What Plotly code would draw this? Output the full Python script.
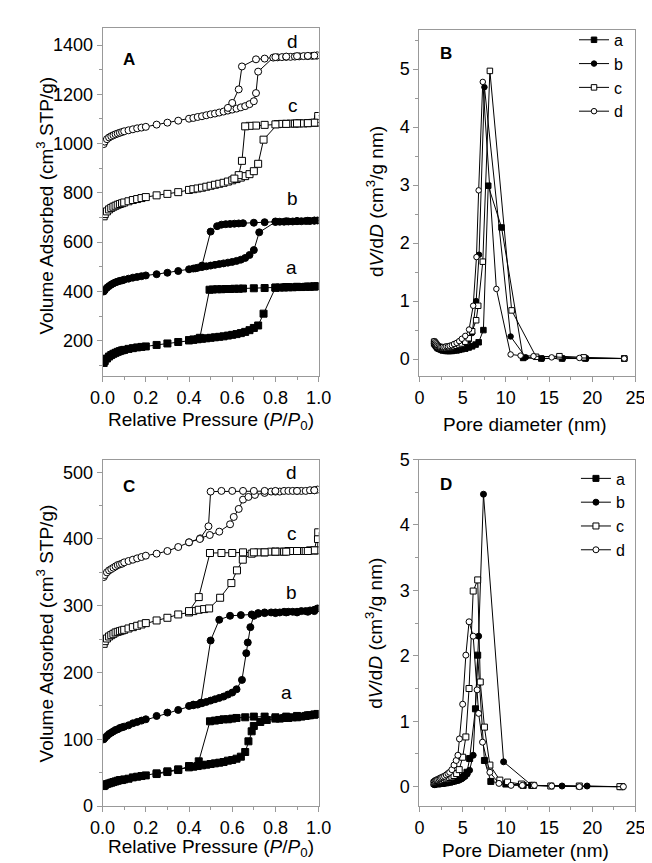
import plotly.graph_objects as go

# ---------------- Panel A : N2 isotherms (adsorption then desorption) -------------
A_a_x = [0.005, 0.01, 0.02, 0.03, 0.04, 0.05, 0.06, 0.07, 0.08, 0.09, 0.10, 0.12, 0.14, 0.16, 0.18, 0.20,
         0.25, 0.30, 0.35, 0.40, 0.42, 0.44, 0.46, 0.48, 0.50, 0.52, 0.54, 0.56, 0.58, 0.60, 0.62, 0.64,
         0.66, 0.68, 0.70, 0.72, 0.745, 0.80, 0.82, 0.84, 0.86, 0.88, 0.90, 0.92, 0.94, 0.96, 0.98, 0.995,
         0.98, 0.95, 0.90, 0.85, 0.80, 0.75, 0.70, 0.65, 0.63, 0.61, 0.59, 0.57, 0.55, 0.53, 0.51, 0.495,
         0.45, 0.42, 0.40]
A_a_y = [110, 118, 128, 136, 142, 147, 151, 155, 158, 161, 163, 167, 170, 173, 175, 177,
         183, 189, 195, 202, 204, 206, 208, 210, 212, 214, 216, 218, 221, 224, 227, 231,
         236, 243, 252, 262, 310, 415, 416, 416, 417, 417, 418, 418, 419, 419, 420, 421,
         421, 420, 419, 418, 416, 414, 413, 412, 411, 411, 410, 410, 409, 409, 408, 407,
         212, 205, 202]

A_b_x = [0.005, 0.01, 0.02, 0.03, 0.04, 0.05, 0.06, 0.07, 0.08, 0.09, 0.10, 0.12, 0.14, 0.16, 0.18, 0.20,
         0.25, 0.30, 0.35, 0.40, 0.42, 0.44, 0.46, 0.48, 0.50, 0.52, 0.54, 0.56, 0.58, 0.60, 0.62, 0.64,
         0.66, 0.68, 0.70, 0.725, 0.80, 0.82, 0.84, 0.86, 0.88, 0.90, 0.92, 0.94, 0.96, 0.98, 0.995,
         0.98, 0.95, 0.90, 0.85, 0.80, 0.75, 0.70, 0.65, 0.63, 0.61, 0.59, 0.57, 0.55, 0.53, 0.50,
         0.46, 0.43]
A_b_y = [400, 405, 415, 422, 428, 433, 437, 440, 443, 445, 448, 452, 456, 459, 462, 465,
         470, 476, 483, 490, 493, 496, 499, 502, 505, 508, 511, 514, 517, 520, 524, 529,
         536, 548, 568, 640, 682, 683, 683, 684, 684, 685, 685, 686, 686, 687, 688,
         688, 687, 686, 685, 684, 681, 679, 677, 676, 675, 674, 673, 671, 665, 643,
         505, 494]

A_c_x = [0.005, 0.01, 0.02, 0.03, 0.04, 0.05, 0.06, 0.07, 0.08, 0.09, 0.10, 0.12, 0.14, 0.16, 0.18, 0.20,
         0.25, 0.30, 0.35, 0.40, 0.42, 0.44, 0.46, 0.48, 0.50, 0.52, 0.54, 0.56, 0.58, 0.60, 0.62, 0.64,
         0.66, 0.68, 0.70, 0.72, 0.745, 0.81, 0.83, 0.85, 0.87, 0.89, 0.91, 0.93, 0.95, 0.97, 0.99, 0.995,
         0.997, 0.998,
         0.98, 0.95, 0.90, 0.85, 0.80, 0.75, 0.71, 0.68, 0.66, 0.645, 0.63, 0.61]
A_c_y = [705, 714, 725, 733, 739, 744, 748, 752, 755, 758, 761, 766, 771, 775, 779, 783,
         790, 796, 803, 812, 815, 818, 821, 825, 829, 833, 837, 841, 846, 851, 856, 862,
         868, 876, 888, 918, 1016, 1079, 1080, 1080, 1081, 1081, 1082, 1082, 1083, 1084, 1085, 1086,
         1100, 1112,
         1085, 1083, 1082, 1080, 1078, 1076, 1073, 1072, 1070, 930, 872, 858]

A_d_x = [0.005, 0.01, 0.02, 0.03, 0.04, 0.05, 0.06, 0.07, 0.08, 0.09, 0.10, 0.12, 0.14, 0.16, 0.18, 0.20,
         0.25, 0.30, 0.35, 0.40, 0.42, 0.44, 0.46, 0.48, 0.50, 0.52, 0.54, 0.56, 0.58, 0.60, 0.62, 0.64,
         0.66, 0.68, 0.70, 0.71, 0.72, 0.79, 0.81, 0.83, 0.85, 0.87, 0.89, 0.91, 0.93, 0.95, 0.97, 0.99, 0.995,
         0.98, 0.95, 0.90, 0.85, 0.80, 0.75, 0.71, 0.645, 0.63, 0.60, 0.58]
A_d_y = [998, 1008, 1018, 1025, 1030, 1034, 1038, 1041, 1044, 1047, 1050, 1054, 1058, 1062, 1065, 1068,
         1077, 1085, 1093, 1101, 1104, 1108, 1111, 1115, 1119, 1122, 1126, 1130, 1134, 1138, 1142, 1147,
         1152, 1160, 1172, 1205, 1292, 1349, 1350, 1351, 1352, 1352, 1353, 1354, 1355, 1355, 1356, 1357, 1358,
         1357, 1356, 1355, 1353, 1351, 1345, 1342, 1313, 1220, 1165, 1145]

# ---------------- Panel B : pore size distributions -------------
B_a_x = [1.7, 1.8, 1.9, 2.0, 2.1, 2.25, 2.4, 2.55, 2.7, 2.9, 3.1, 3.3, 3.5, 3.75, 4.0, 4.3, 4.6, 4.9,
         5.3, 5.7, 6.1, 6.5, 6.85, 7.4, 7.96, 9.5, 12.0, 14.1, 16.5, 19.2, 23.7]
B_a_y = [0.27, 0.25, 0.23, 0.21, 0.19, 0.18, 0.17, 0.16, 0.15, 0.15, 0.14, 0.14, 0.14, 0.14, 0.15, 0.15, 0.16, 0.17,
         0.18, 0.20, 0.22, 0.25, 0.29, 0.50, 2.99, 2.27, 0.02, 0.01, 0.01, 0.01, 0.01]

B_b_x = [1.7, 1.8, 1.9, 2.0, 2.1, 2.25, 2.4, 2.55, 2.7, 2.9, 3.1, 3.3, 3.5, 3.75, 4.0, 4.3, 4.6, 4.9,
         5.3, 5.7, 6.1, 6.56, 6.9, 7.52, 10.55, 12.3, 14.2, 16.6, 19.3, 23.7]
B_b_y = [0.27, 0.25, 0.23, 0.21, 0.20, 0.19, 0.18, 0.17, 0.16, 0.16, 0.16, 0.16, 0.16, 0.17, 0.17, 0.18, 0.20, 0.22,
         0.26, 0.32, 0.45, 1.00, 1.80, 4.69, 0.39, 0.03, 0.01, 0.01, 0.01, 0.01]

B_c_x = [1.7, 1.8, 1.9, 2.0, 2.1, 2.25, 2.4, 2.55, 2.7, 2.9, 3.1, 3.3, 3.5, 3.75, 4.0, 4.3, 4.6, 4.9,
         5.3, 5.7, 6.1, 6.56, 6.8, 7.33, 8.15, 10.67, 13.5, 16.2, 19.0, 23.7]
B_c_y = [0.30, 0.28, 0.26, 0.24, 0.22, 0.21, 0.20, 0.20, 0.19, 0.19, 0.19, 0.20, 0.20, 0.21, 0.22, 0.23, 0.25, 0.27,
         0.30, 0.36, 0.48, 0.67, 0.92, 1.68, 4.97, 0.84, 0.04, 0.05, 0.03, 0.01]

B_d_x = [1.7, 1.8, 1.9, 2.0, 2.1, 2.25, 2.4, 2.55, 2.7, 2.9, 3.1, 3.3, 3.5, 3.75, 4.0, 4.3, 4.6, 4.9,
         5.3, 5.74, 6.22, 6.6, 6.85, 7.33, 8.9, 10.55, 11.7, 13.2, 15.3, 18.5, 23.7]
B_d_y = [0.31, 0.29, 0.27, 0.25, 0.23, 0.22, 0.21, 0.21, 0.21, 0.21, 0.22, 0.22, 0.23, 0.24, 0.26, 0.28, 0.31, 0.35,
         0.40, 0.51, 0.92, 1.76, 2.91, 4.78, 1.21, 0.08, 0.06, 0.05, 0.03, 0.02, 0.01]

# ---------------- Panel C : N2 isotherms -------------
C_a_x = [0.005, 0.01, 0.02, 0.03, 0.04, 0.05, 0.06, 0.07, 0.08, 0.09, 0.10, 0.12, 0.14, 0.16, 0.18, 0.20,
         0.25, 0.30, 0.35, 0.40, 0.42, 0.44, 0.46, 0.48, 0.50, 0.52, 0.54, 0.56, 0.58, 0.60, 0.62, 0.64,
         0.66, 0.675, 0.69, 0.70, 0.73, 0.76, 0.80, 0.82, 0.84, 0.86, 0.88, 0.90, 0.92, 0.94, 0.96, 0.98, 0.995,
         0.98, 0.95, 0.90, 0.85, 0.80, 0.75, 0.70, 0.66, 0.62, 0.60, 0.58, 0.56, 0.54, 0.52, 0.497,
         0.445, 0.40, 0.35, 0.30, 0.25]
C_a_y = [30, 31, 33, 34, 35, 36, 37, 38, 39, 39, 40, 41, 43, 44, 45, 46,
         49, 52, 55, 58, 59, 60, 61, 62, 63, 64, 65, 66, 68, 69, 71, 74,
         81, 97, 112, 120, 126, 129, 131, 131, 132, 132, 133, 133, 134, 135, 136, 137, 138,
         137, 136, 135, 134, 133, 134, 134, 133, 132, 131, 130, 130, 129, 128, 127,
         67, 60, 54, 51, 48]

C_b_x = [0.005, 0.01, 0.02, 0.03, 0.04, 0.05, 0.06, 0.07, 0.08, 0.09, 0.10, 0.12, 0.14, 0.16, 0.18, 0.20,
         0.25, 0.30, 0.35, 0.40, 0.42, 0.44, 0.46, 0.48, 0.50, 0.52, 0.54, 0.56, 0.58, 0.60, 0.62, 0.645,
         0.665, 0.672, 0.684, 0.70, 0.72, 0.75, 0.78, 0.80, 0.82, 0.84, 0.86, 0.88, 0.90, 0.92, 0.94, 0.96, 0.98, 0.995,
         0.98, 0.95, 0.90, 0.85, 0.80, 0.75, 0.72, 0.69, 0.64, 0.59, 0.54, 0.50,
         0.455, 0.42]
C_b_y = [100, 102, 105, 108, 110, 112, 114, 115, 117, 118, 119, 121, 124, 126, 128, 130,
         135, 140, 144, 150, 151, 152, 154, 156, 158, 160, 162, 164, 167, 170, 175, 189,
         229, 245, 268, 285, 289, 290, 290, 290, 290, 291, 291, 291, 291, 292, 292, 293, 294, 296,
         292, 291, 290, 290, 289, 289, 288, 287, 286, 285, 279, 248,
         155, 152]

C_c_x = [0.005, 0.01, 0.02, 0.03, 0.04, 0.05, 0.06, 0.07, 0.08, 0.09, 0.10, 0.12, 0.14, 0.16, 0.18, 0.20,
         0.25, 0.30, 0.35, 0.40, 0.42, 0.445, 0.47, 0.493, 0.544, 0.596, 0.622, 0.649, 0.69, 0.72, 0.75,
         0.78, 0.80, 0.82, 0.84, 0.86, 0.88, 0.90, 0.92, 0.94, 0.96, 0.98, 0.995, 0.997, 0.998,
         0.98, 0.95, 0.90, 0.85, 0.80, 0.75, 0.70, 0.65, 0.60, 0.55, 0.497, 0.445, 0.40]
C_c_y = [243, 247, 251, 254, 256, 258, 260, 261, 262, 263, 264, 266, 268, 270, 272, 274,
         278, 282, 287, 290, 292, 294, 295, 296, 312, 334, 353, 369, 378, 380, 380,
         381, 381, 381, 381, 382, 382, 382, 382, 382, 383, 383, 383, 400, 410,
         383, 382, 382, 381, 381, 380, 380, 380, 379, 379, 379, 313, 292]

C_d_x = [0.005, 0.01, 0.02, 0.03, 0.04, 0.05, 0.06, 0.07, 0.08, 0.09, 0.10, 0.12, 0.14, 0.16, 0.18, 0.20,
         0.25, 0.30, 0.35, 0.40, 0.452, 0.496, 0.54, 0.59, 0.607, 0.63, 0.65, 0.675, 0.705, 0.75, 0.78,
         0.80, 0.82, 0.84, 0.86, 0.88, 0.90, 0.92, 0.94, 0.96, 0.98, 0.995,
         0.98, 0.90, 0.80, 0.75, 0.70, 0.65, 0.60, 0.55, 0.50, 0.49, 0.45, 0.40]
C_d_y = [343, 346, 350, 353, 355, 357, 359, 361, 362, 363, 365, 367, 369, 371, 373, 375,
         378, 382, 388, 395, 401, 406, 411, 422, 433, 445, 459, 463, 466, 469, 471,
         471, 471, 472, 472, 472, 472, 472, 472, 473, 473, 474,
         473, 472, 472, 472, 472, 472, 472, 472, 471, 419, 400, 395]

# ---------------- Panel D : pore size distributions -------------
D_a_x = [1.7, 1.8, 1.9, 2.0, 2.1, 2.25, 2.4, 2.55, 2.7, 2.9, 3.1, 3.3, 3.5, 3.75, 4.0, 4.3, 4.6, 4.9,
         5.2, 5.5, 5.81, 6.48, 6.74, 7.52, 8.26, 10.0, 12.0, 13.0, 23.4]
D_a_y = [0.05, 0.05, 0.05, 0.05, 0.05, 0.05, 0.05, 0.05, 0.06, 0.06, 0.06, 0.07, 0.07, 0.08, 0.09, 0.10, 0.12, 0.14,
         0.17, 0.22, 0.43, 1.19, 2.01, 0.40, 0.08, 0.04, 0.02, 0.02, 0.00]

D_b_x = [1.7, 1.8, 1.9, 2.0, 2.1, 2.25, 2.4, 2.55, 2.7, 2.9, 3.1, 3.3, 3.5, 3.75, 4.0, 4.3, 4.6, 4.9,
         5.2, 5.5, 5.8, 6.22, 6.85, 7.41, 9.74, 13.0, 16.5, 19.4, 23.5]
D_b_y = [0.03, 0.03, 0.04, 0.04, 0.04, 0.04, 0.04, 0.05, 0.05, 0.05, 0.06, 0.06, 0.07, 0.07, 0.08, 0.09, 0.10, 0.12,
         0.15, 0.19, 0.25, 0.48, 2.30, 4.47, 0.38, 0.02, 0.01, 0.01, 0.00]

D_c_x = [1.7, 1.8, 1.9, 2.0, 2.1, 2.25, 2.4, 2.55, 2.7, 2.9, 3.1, 3.3, 3.5, 3.75, 4.0, 4.3, 4.6,
         5.0, 5.37, 5.74, 6.22, 6.74, 7.04, 7.52, 8.15, 9.3, 10.2, 11.8, 13.2, 15.2, 18.5, 23.2]
D_c_y = [0.06, 0.07, 0.07, 0.08, 0.08, 0.09, 0.09, 0.10, 0.10, 0.11, 0.12, 0.13, 0.14, 0.15, 0.17, 0.20, 0.26,
         0.45, 0.76, 1.50, 2.99, 3.16, 1.60, 0.91, 0.33, 0.10, 0.07, 0.04, 0.02, 0.01, 0.01, 0.00]

D_d_x = [1.7, 1.8, 1.9, 2.0, 2.1, 2.25, 2.4, 2.55, 2.7, 2.9, 3.1, 3.3, 3.5, 3.75, 4.0, 4.25, 4.45,
         4.63, 5.0, 5.37, 5.74, 6.22, 6.67, 6.85, 7.3, 8.15, 9.2, 10.6, 11.9, 13.3, 15.3, 18.5, 23.6]
D_d_y = [0.08, 0.09, 0.10, 0.10, 0.11, 0.12, 0.13, 0.14, 0.15, 0.16, 0.18, 0.20, 0.22, 0.26, 0.33, 0.40, 0.48,
         0.73, 1.26, 2.01, 2.52, 2.30, 1.48, 1.12, 0.68, 0.22, 0.05, 0.02, 0.02, 0.02, 0.01, 0.00, 0.00]

SERIES = ["a", "b", "c", "d"]

# ---------------- styling -------------
W, H = 652, 863
FONT = "Arial, 'Liberation Sans', Helvetica, sans-serif"
FRAME = "#999999"

STYLE = {
    "a": dict(symbol="square", color="black"),
    "b": dict(symbol="circle", color="black"),
    "c": dict(symbol="square", color="white"),
    "d": dict(symbol="circle", color="white"),
}

def dx(l, r):
    return [l / W, r / W]

def dy(t, b):
    return [1 - b / H, 1 - t / H]

fig = go.Figure()

panels = {
    "A": ("x", "y", {"a": (A_a_x, A_a_y), "b": (A_b_x, A_b_y), "c": (A_c_x, A_c_y), "d": (A_d_x, A_d_y)}, 7, None),
    "B": ("x2", "y2", {"a": (B_a_x, B_a_y), "b": (B_b_x, B_b_y), "c": (B_c_x, B_c_y), "d": (B_d_x, B_d_y)}, 5.5, "legend"),
    "C": ("x3", "y3", {"a": (C_a_x, C_a_y), "b": (C_b_x, C_b_y), "c": (C_c_x, C_c_y), "d": (C_d_x, C_d_y)}, 7, None),
    "D": ("x4", "y4", {"a": (D_a_x, D_a_y), "b": (D_b_x, D_b_y), "c": (D_c_x, D_c_y), "d": (D_d_x, D_d_y)}, 6, "legend2"),
}

for pname, (xa, ya, data, msize, leg) in panels.items():
    for s in SERIES:
        xs, ys = data[s]
        st = STYLE[s]
        kw = dict(
            x=xs, y=ys, xaxis=xa, yaxis=ya, mode="lines+markers", name=s,
            line=dict(color="black", width=1),
            marker=dict(symbol=st["symbol"], size=msize, color=st["color"],
                        line=dict(color="black", width=1)),
            showlegend=leg is not None,
        )
        if leg is not None:
            kw["legend"] = leg
        fig.add_trace(go.Scatter(**kw))

def xaxis_cfg(domain, rng, dtick, minor, fmt=None, anchor=None):
    d = dict(domain=domain, range=rng, dtick=dtick, tick0=0, showline=True, linecolor=FRAME,
             linewidth=1, mirror=True, ticks="outside", ticklen=5, tickcolor=FRAME,
             showgrid=False, zeroline=False, anchor=anchor,
             tickfont=dict(family=FONT, size=18, color="black"),
             minor=dict(ticks="outside", ticklen=3, dtick=minor, tickcolor=FRAME, showgrid=False))
    if fmt:
        d["tickformat"] = fmt
    return d

def yaxis_cfg(domain, rng, dtick, minor, anchor=None, tick0=0):
    return dict(domain=domain, range=rng, dtick=dtick, tick0=tick0, showline=True, linecolor=FRAME,
                linewidth=1, mirror=True, ticks="outside", ticklen=5, tickcolor=FRAME,
                showgrid=False, zeroline=False, anchor=anchor,
                tickfont=dict(family=FONT, size=18, color="black"),
                minor=dict(ticks="outside", ticklen=3, dtick=minor, tickcolor=FRAME, showgrid=False))

fig.update_layout(
    width=W, height=H,
    margin=dict(l=0, r=0, t=0, b=0),
    paper_bgcolor="white", plot_bgcolor="white",
    font=dict(family=FONT, color="black"),
    xaxis=xaxis_cfg(dx(85, 310), [0, 1], 0.2, 0.1, ".1f", "y"),
    yaxis=yaxis_cfg(dy(10, 367), [55, 1470], 200, 100, "x"),
    xaxis2=xaxis_cfg(dx(415, 640), [0, 25], 5, 2.5, None, "y2"),
    yaxis2=yaxis_cfg(dy(12, 367), [-0.3, 5.68], 1, 0.5, "x2"),
    xaxis3=xaxis_cfg(dx(85, 310), [0, 1], 0.2, 0.1, ".1f", "y3"),
    yaxis3=yaxis_cfg(dy(452, 807), [-0.3, 519], 100, 50, "x3"),
    xaxis4=xaxis_cfg(dx(415, 640), [0, 25], 5, 2.5, None, "y4"),
    yaxis4=yaxis_cfg(dy(452, 807), [-0.3, 5.0], 1, 0.5, "x4"),
    legend=dict(x=576 / W, y=1 - 5 / H, xanchor="left", yanchor="top",
                font=dict(family=FONT, size=16), bgcolor="rgba(0,0,0,0)", tracegroupgap=0),
    legend2=dict(x=578 / W, y=1 - 454 / H, xanchor="left", yanchor="top",
                 font=dict(family=FONT, size=16), bgcolor="rgba(0,0,0,0)", tracegroupgap=0),
)

ann = []

def txt(x, y, text, size=18, angle=0, bold=False):
    if bold:
        text = "<b>" + text + "</b>"
    ann.append(dict(x=x / W, y=1 - y / H, xref="paper", yref="paper", text=text, showarrow=False,
                    font=dict(family=FONT, size=size, color="black"), textangle=angle,
                    xanchor="center", yanchor="middle"))

# axis titles
txt(25, 192, "Volume Adsorbed (cm<sup>3</sup> STP/g)", 19, -90)
txt(198, 413, "Relative Pressure (<i>P</i>/<i>P</i><sub>0</sub>)", 19)
txt(368, 188, "d<i>V</i>/d<i>D</i> (cm<sup>3</sup>/g nm)", 19, -90)
txt(525, 416, "Pore diameter (nm)", 19)
txt(25, 630, "Volume Adsorbed (cm<sup>3</sup> STP/g)", 19, -90)
txt(198, 850, "Relative Pressure (<i>P</i>/<i>P</i><sub>0</sub>)", 19)
txt(368, 630, "d<i>V</i>/d<i>D</i> (cm<sup>3</sup>/g nm)", 19, -90)
txt(525, 852, "Pore Diameter (nm)", 19)

# panel letters
txt(113, 42, "A", 17, bold=True)
txt(443, 36, "B", 17, bold=True)
txt(113, 480, "C", 17, bold=True)
txt(443, 478, "D", 17, bold=True)

# curve labels
for lab, xx, yy in [("d", 283, 24), ("c", 283, 90), ("b", 283, 185), ("a", 282, 255),
                    ("d", 282, 465), ("c", 282, 528), ("b", 282, 588), ("a", 277, 690)]:
    txt(xx, yy, lab, 19)

fig.update_layout(annotations=ann)

fig.write_html("out.html")
